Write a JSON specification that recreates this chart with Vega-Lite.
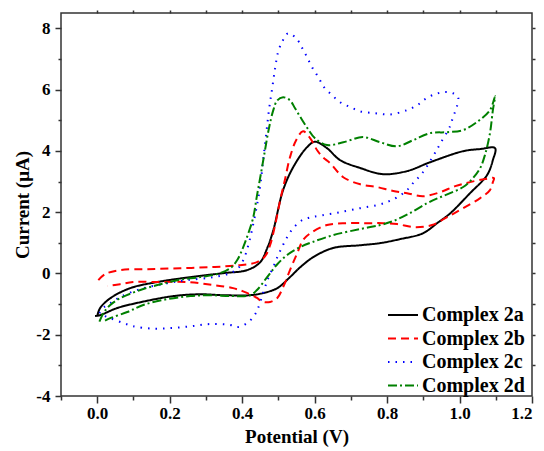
{
  "$schema": "https://vega.github.io/schema/vega-lite/v6.json",
  "autosize": {"type": "none"},
  "padding": {"left": 61, "top": 13, "right": 12, "bottom": 55},
  "width": 471,
  "height": 383,
  "background": "white",
  "config": {
    "view": {"stroke": "#333333", "strokeWidth": 1.5},
    "font": "Liberation Serif",
    "axis": {"domain": false, "grid": false, "tickColor": "#333333", "tickWidth": 1.5}
  },
  "data": {"values": [
    {"s":"Complex 2a","o":0,"x":0.0,"y":-1.39},{"s":"Complex 2a","o":1,"x":0.008,"y":-1.13},{"s":"Complex 2a","o":2,"x":0.036,"y":-0.81},{"s":"Complex 2a","o":3,"x":0.091,"y":-0.48},{"s":"Complex 2a","o":4,"x":0.166,"y":-0.28},{"s":"Complex 2a","o":5,"x":0.257,"y":-0.12},{"s":"Complex 2a","o":6,"x":0.348,"y":0.01},{"s":"Complex 2a","o":7,"x":0.414,"y":0.11},{"s":"Complex 2a","o":8,"x":0.45,"y":0.37},{"s":"Complex 2a","o":9,"x":0.47,"y":0.85},{"s":"Complex 2a","o":10,"x":0.486,"y":1.41},{"s":"Complex 2a","o":11,"x":0.513,"y":2.72},{"s":"Complex 2a","o":12,"x":0.541,"y":3.47},{"s":"Complex 2a","o":13,"x":0.579,"y":4.12},{"s":"Complex 2a","o":14,"x":0.601,"y":4.3},{"s":"Complex 2a","o":15,"x":0.634,"y":4.09},{"s":"Complex 2a","o":16,"x":0.67,"y":3.7},{"s":"Complex 2a","o":17,"x":0.726,"y":3.44},{"s":"Complex 2a","o":18,"x":0.789,"y":3.24},{"s":"Complex 2a","o":19,"x":0.855,"y":3.34},{"s":"Complex 2a","o":20,"x":0.919,"y":3.63},{"s":"Complex 2a","o":21,"x":1.01,"y":3.99},{"s":"Complex 2a","o":22,"x":1.057,"y":4.06},{"s":"Complex 2a","o":23,"x":1.098,"y":4.09},{"s":"Complex 2a","o":24,"x":1.092,"y":3.7},{"s":"Complex 2a","o":25,"x":1.076,"y":3.21},{"s":"Complex 2a","o":26,"x":1.029,"y":2.62},{"s":"Complex 2a","o":27,"x":0.974,"y":1.96},{"s":"Complex 2a","o":28,"x":0.938,"y":1.64},{"s":"Complex 2a","o":29,"x":0.899,"y":1.31},{"s":"Complex 2a","o":30,"x":0.836,"y":1.12},{"s":"Complex 2a","o":31,"x":0.781,"y":0.99},{"s":"Complex 2a","o":32,"x":0.726,"y":0.92},{"s":"Complex 2a","o":33,"x":0.651,"y":0.83},{"s":"Complex 2a","o":34,"x":0.596,"y":0.53},{"s":"Complex 2a","o":35,"x":0.56,"y":0.2},{"s":"Complex 2a","o":36,"x":0.532,"y":-0.12},{"s":"Complex 2a","o":37,"x":0.497,"y":-0.48},{"s":"Complex 2a","o":38,"x":0.458,"y":-0.64},{"s":"Complex 2a","o":39,"x":0.422,"y":-0.71},{"s":"Complex 2a","o":40,"x":0.348,"y":-0.71},{"s":"Complex 2a","o":41,"x":0.284,"y":-0.68},{"s":"Complex 2a","o":42,"x":0.21,"y":-0.74},{"s":"Complex 2a","o":43,"x":0.119,"y":-0.94},{"s":"Complex 2a","o":44,"x":0.055,"y":-1.13},{"s":"Complex 2a","o":45,"x":0.008,"y":-1.36},{"s":"Complex 2a","o":46,"x":-0.006,"y":-1.39},

    {"s":"Complex 2b","o":0,"x":0.003,"y":-0.22},{"s":"Complex 2b","o":1,"x":0.022,"y":-0.02},{"s":"Complex 2b","o":2,"x":0.063,"y":0.11},{"s":"Complex 2b","o":3,"x":0.138,"y":0.14},{"s":"Complex 2b","o":4,"x":0.229,"y":0.17},{"s":"Complex 2b","o":5,"x":0.32,"y":0.21},{"s":"Complex 2b","o":6,"x":0.394,"y":0.27},{"s":"Complex 2b","o":7,"x":0.441,"y":0.37},{"s":"Complex 2b","o":8,"x":0.463,"y":0.56},{"s":"Complex 2b","o":9,"x":0.477,"y":0.92},{"s":"Complex 2b","o":10,"x":0.491,"y":1.58},{"s":"Complex 2b","o":11,"x":0.505,"y":2.39},{"s":"Complex 2b","o":12,"x":0.519,"y":3.11},{"s":"Complex 2b","o":13,"x":0.532,"y":3.79},{"s":"Complex 2b","o":14,"x":0.549,"y":4.35},{"s":"Complex 2b","o":15,"x":0.568,"y":4.64},{"s":"Complex 2b","o":16,"x":0.588,"y":4.41},{"s":"Complex 2b","o":17,"x":0.607,"y":4.02},{"s":"Complex 2b","o":18,"x":0.623,"y":3.79},{"s":"Complex 2b","o":19,"x":0.643,"y":3.6},{"s":"Complex 2b","o":20,"x":0.679,"y":3.14},{"s":"Complex 2b","o":21,"x":0.726,"y":2.91},{"s":"Complex 2b","o":22,"x":0.772,"y":2.82},{"s":"Complex 2b","o":23,"x":0.817,"y":2.69},{"s":"Complex 2b","o":24,"x":0.855,"y":2.62},{"s":"Complex 2b","o":25,"x":0.899,"y":2.52},{"s":"Complex 2b","o":26,"x":0.946,"y":2.65},{"s":"Complex 2b","o":27,"x":0.988,"y":2.85},{"s":"Complex 2b","o":28,"x":1.029,"y":2.98},{"s":"Complex 2b","o":29,"x":1.07,"y":3.08},{"s":"Complex 2b","o":30,"x":1.095,"y":3.11},{"s":"Complex 2b","o":31,"x":1.092,"y":2.98},{"s":"Complex 2b","o":32,"x":1.084,"y":2.72},{"s":"Complex 2b","o":33,"x":1.057,"y":2.46},{"s":"Complex 2b","o":34,"x":1.01,"y":2.13},{"s":"Complex 2b","o":35,"x":0.966,"y":1.84},{"s":"Complex 2b","o":36,"x":0.924,"y":1.58},{"s":"Complex 2b","o":37,"x":0.877,"y":1.51},{"s":"Complex 2b","o":38,"x":0.828,"y":1.61},{"s":"Complex 2b","o":39,"x":0.789,"y":1.64},{"s":"Complex 2b","o":40,"x":0.745,"y":1.64},{"s":"Complex 2b","o":41,"x":0.69,"y":1.64},{"s":"Complex 2b","o":42,"x":0.634,"y":1.58},{"s":"Complex 2b","o":43,"x":0.588,"y":1.31},{"s":"Complex 2b","o":44,"x":0.568,"y":1.09},{"s":"Complex 2b","o":45,"x":0.552,"y":0.66},{"s":"Complex 2b","o":46,"x":0.532,"y":0.11},{"s":"Complex 2b","o":47,"x":0.513,"y":-0.45},{"s":"Complex 2b","o":48,"x":0.497,"y":-0.8},{"s":"Complex 2b","o":49,"x":0.477,"y":-0.93},{"s":"Complex 2b","o":50,"x":0.455,"y":-0.92},{"s":"Complex 2b","o":51,"x":0.441,"y":-0.8},{"s":"Complex 2b","o":52,"x":0.408,"y":-0.61},{"s":"Complex 2b","o":53,"x":0.375,"y":-0.48},{"s":"Complex 2b","o":54,"x":0.32,"y":-0.38},{"s":"Complex 2b","o":55,"x":0.248,"y":-0.28},{"s":"Complex 2b","o":56,"x":0.174,"y":-0.28},{"s":"Complex 2b","o":57,"x":0.099,"y":-0.28},{"s":"Complex 2b","o":58,"x":0.063,"y":-0.35},{"s":"Complex 2b","o":59,"x":0.028,"y":-0.41},

    {"s":"Complex 2c","o":0,"x":0.006,"y":-1.3},{"s":"Complex 2c","o":1,"x":0.019,"y":-1.1},{"s":"Complex 2c","o":2,"x":0.036,"y":-0.97},{"s":"Complex 2c","o":3,"x":0.063,"y":-0.77},{"s":"Complex 2c","o":4,"x":0.119,"y":-0.51},{"s":"Complex 2c","o":5,"x":0.193,"y":-0.32},{"s":"Complex 2c","o":6,"x":0.248,"y":-0.22},{"s":"Complex 2c","o":7,"x":0.32,"y":-0.12},{"s":"Complex 2c","o":8,"x":0.367,"y":0.01},{"s":"Complex 2c","o":9,"x":0.389,"y":0.17},{"s":"Complex 2c","o":10,"x":0.403,"y":0.43},{"s":"Complex 2c","o":11,"x":0.417,"y":0.92},{"s":"Complex 2c","o":12,"x":0.43,"y":1.58},{"s":"Complex 2c","o":13,"x":0.441,"y":2.23},{"s":"Complex 2c","o":14,"x":0.45,"y":2.88},{"s":"Complex 2c","o":15,"x":0.458,"y":3.7},{"s":"Complex 2c","o":16,"x":0.466,"y":4.51},{"s":"Complex 2c","o":17,"x":0.474,"y":5.33},{"s":"Complex 2c","o":18,"x":0.483,"y":6.05},{"s":"Complex 2c","o":19,"x":0.491,"y":6.7},{"s":"Complex 2c","o":20,"x":0.499,"y":7.22},{"s":"Complex 2c","o":21,"x":0.51,"y":7.55},{"s":"Complex 2c","o":22,"x":0.527,"y":7.84},{"s":"Complex 2c","o":23,"x":0.549,"y":7.68},{"s":"Complex 2c","o":24,"x":0.566,"y":7.35},{"s":"Complex 2c","o":25,"x":0.579,"y":7.06},{"s":"Complex 2c","o":26,"x":0.593,"y":6.73},{"s":"Complex 2c","o":27,"x":0.61,"y":6.41},{"s":"Complex 2c","o":28,"x":0.626,"y":6.08},{"s":"Complex 2c","o":29,"x":0.648,"y":5.82},{"s":"Complex 2c","o":30,"x":0.67,"y":5.59},{"s":"Complex 2c","o":31,"x":0.698,"y":5.43},{"s":"Complex 2c","o":32,"x":0.726,"y":5.29},{"s":"Complex 2c","o":33,"x":0.767,"y":5.23},{"s":"Complex 2c","o":34,"x":0.808,"y":5.19},{"s":"Complex 2c","o":35,"x":0.855,"y":5.33},{"s":"Complex 2c","o":36,"x":0.883,"y":5.49},{"s":"Complex 2c","o":37,"x":0.905,"y":5.69},{"s":"Complex 2c","o":38,"x":0.932,"y":5.85},{"s":"Complex 2c","o":39,"x":0.96,"y":5.92},{"s":"Complex 2c","o":40,"x":0.982,"y":5.88},{"s":"Complex 2c","o":41,"x":0.996,"y":5.75},{"s":"Complex 2c","o":42,"x":0.993,"y":5.46},{"s":"Complex 2c","o":43,"x":0.982,"y":5.1},{"s":"Complex 2c","o":44,"x":0.974,"y":4.81},{"s":"Complex 2c","o":45,"x":0.946,"y":4.22},{"s":"Complex 2c","o":46,"x":0.93,"y":3.89},{"s":"Complex 2c","o":47,"x":0.897,"y":3.27},{"s":"Complex 2c","o":48,"x":0.874,"y":2.98},{"s":"Complex 2c","o":49,"x":0.855,"y":2.72},{"s":"Complex 2c","o":50,"x":0.828,"y":2.49},{"s":"Complex 2c","o":51,"x":0.8,"y":2.33},{"s":"Complex 2c","o":52,"x":0.772,"y":2.23},{"s":"Complex 2c","o":53,"x":0.726,"y":2.13},{"s":"Complex 2c","o":54,"x":0.67,"y":2.0},{"s":"Complex 2c","o":55,"x":0.621,"y":1.9},{"s":"Complex 2c","o":56,"x":0.593,"y":1.84},{"s":"Complex 2c","o":57,"x":0.566,"y":1.74},{"s":"Complex 2c","o":58,"x":0.541,"y":1.48},{"s":"Complex 2c","o":59,"x":0.524,"y":1.18},{"s":"Complex 2c","o":60,"x":0.51,"y":0.86},{"s":"Complex 2c","o":61,"x":0.497,"y":0.53},{"s":"Complex 2c","o":62,"x":0.486,"y":0.21},{"s":"Complex 2c","o":63,"x":0.472,"y":-0.15},{"s":"Complex 2c","o":64,"x":0.458,"y":-0.64},{"s":"Complex 2c","o":65,"x":0.444,"y":-1.13},{"s":"Complex 2c","o":66,"x":0.436,"y":-1.33},{"s":"Complex 2c","o":67,"x":0.417,"y":-1.59},{"s":"Complex 2c","o":68,"x":0.389,"y":-1.75},{"s":"Complex 2c","o":69,"x":0.367,"y":-1.68},{"s":"Complex 2c","o":70,"x":0.312,"y":-1.65},{"s":"Complex 2c","o":71,"x":0.262,"y":-1.72},{"s":"Complex 2c","o":72,"x":0.207,"y":-1.78},{"s":"Complex 2c","o":73,"x":0.152,"y":-1.8},{"s":"Complex 2c","o":74,"x":0.099,"y":-1.72},{"s":"Complex 2c","o":75,"x":0.072,"y":-1.62},{"s":"Complex 2c","o":76,"x":0.036,"y":-1.46},{"s":"Complex 2c","o":77,"x":0.014,"y":-1.36},

    {"s":"Complex 2d","o":0,"x":0.006,"y":-1.57},{"s":"Complex 2d","o":1,"x":0.019,"y":-1.26},{"s":"Complex 2d","o":2,"x":0.036,"y":-1.03},{"s":"Complex 2d","o":3,"x":0.063,"y":-0.81},{"s":"Complex 2d","o":4,"x":0.119,"y":-0.54},{"s":"Complex 2d","o":5,"x":0.166,"y":-0.38},{"s":"Complex 2d","o":6,"x":0.221,"y":-0.22},{"s":"Complex 2d","o":7,"x":0.284,"y":-0.12},{"s":"Complex 2d","o":8,"x":0.331,"y":-0.02},{"s":"Complex 2d","o":9,"x":0.367,"y":0.17},{"s":"Complex 2d","o":10,"x":0.386,"y":0.43},{"s":"Complex 2d","o":11,"x":0.403,"y":0.86},{"s":"Complex 2d","o":12,"x":0.417,"y":1.31},{"s":"Complex 2d","o":13,"x":0.43,"y":1.8},{"s":"Complex 2d","o":14,"x":0.441,"y":2.55},{"s":"Complex 2d","o":15,"x":0.452,"y":3.27},{"s":"Complex 2d","o":16,"x":0.463,"y":4.02},{"s":"Complex 2d","o":17,"x":0.474,"y":4.74},{"s":"Complex 2d","o":18,"x":0.486,"y":5.33},{"s":"Complex 2d","o":19,"x":0.497,"y":5.65},{"s":"Complex 2d","o":20,"x":0.513,"y":5.75},{"s":"Complex 2d","o":21,"x":0.532,"y":5.65},{"s":"Complex 2d","o":22,"x":0.546,"y":5.39},{"s":"Complex 2d","o":23,"x":0.566,"y":5.0},{"s":"Complex 2d","o":24,"x":0.582,"y":4.71},{"s":"Complex 2d","o":25,"x":0.601,"y":4.41},{"s":"Complex 2d","o":26,"x":0.634,"y":4.19},{"s":"Complex 2d","o":27,"x":0.679,"y":4.28},{"s":"Complex 2d","o":28,"x":0.734,"y":4.45},{"s":"Complex 2d","o":29,"x":0.781,"y":4.28},{"s":"Complex 2d","o":30,"x":0.828,"y":4.15},{"s":"Complex 2d","o":31,"x":0.872,"y":4.35},{"s":"Complex 2d","o":32,"x":0.919,"y":4.58},{"s":"Complex 2d","o":33,"x":0.966,"y":4.61},{"s":"Complex 2d","o":34,"x":1.01,"y":4.68},{"s":"Complex 2d","o":35,"x":1.048,"y":4.94},{"s":"Complex 2d","o":36,"x":1.084,"y":5.33},{"s":"Complex 2d","o":37,"x":1.098,"y":5.78},{"s":"Complex 2d","o":38,"x":1.092,"y":5.33},{"s":"Complex 2d","o":39,"x":1.084,"y":4.58},{"s":"Complex 2d","o":40,"x":1.07,"y":3.86},{"s":"Complex 2d","o":41,"x":1.057,"y":3.44},{"s":"Complex 2d","o":42,"x":1.037,"y":3.11},{"s":"Complex 2d","o":43,"x":1.01,"y":2.82},{"s":"Complex 2d","o":44,"x":0.974,"y":2.62},{"s":"Complex 2d","o":45,"x":0.941,"y":2.46},{"s":"Complex 2d","o":46,"x":0.91,"y":2.29},{"s":"Complex 2d","o":47,"x":0.863,"y":1.97},{"s":"Complex 2d","o":48,"x":0.817,"y":1.71},{"s":"Complex 2d","o":49,"x":0.781,"y":1.58},{"s":"Complex 2d","o":50,"x":0.726,"y":1.45},{"s":"Complex 2d","o":51,"x":0.651,"y":1.25},{"s":"Complex 2d","o":52,"x":0.593,"y":1.02},{"s":"Complex 2d","o":53,"x":0.56,"y":0.86},{"s":"Complex 2d","o":54,"x":0.524,"y":0.6},{"s":"Complex 2d","o":55,"x":0.497,"y":0.3},{"s":"Complex 2d","o":56,"x":0.469,"y":-0.12},{"s":"Complex 2d","o":57,"x":0.441,"y":-0.54},{"s":"Complex 2d","o":58,"x":0.422,"y":-0.71},{"s":"Complex 2d","o":59,"x":0.375,"y":-0.74},{"s":"Complex 2d","o":60,"x":0.312,"y":-0.71},{"s":"Complex 2d","o":61,"x":0.257,"y":-0.74},{"s":"Complex 2d","o":62,"x":0.193,"y":-0.84},{"s":"Complex 2d","o":63,"x":0.127,"y":-1.03},{"s":"Complex 2d","o":64,"x":0.083,"y":-1.26},{"s":"Complex 2d","o":65,"x":0.036,"y":-1.46},{"s":"Complex 2d","o":66,"x":0.014,"y":-1.59}
  ]},
  "resolve": {"axis": {"x": "independent", "y": "independent"}},
  "layer": [
    {
      "mark": {"type": "line", "interpolate": "catmull-rom", "strokeWidth": 2, "clip": true},
      "encoding": {
        "x": {"field": "x", "type": "quantitative", "scale": {"domain": [-0.1, 1.2], "nice": false, "zero": false},
          "axis": {"orient": "bottom", "values": [0, 0.2, 0.4, 0.6, 0.8, 1.0, 1.2], "format": ".1f", "tickSize": 7, "labelPadding": 2,
            "labelFont": "Liberation Serif", "labelFontWeight": "bold", "labelFontSize": 17, "labelColor": "black",
            "title": "Potential (V)", "titlePadding": 6, "titleFont": "Liberation Serif", "titleFontWeight": "bold", "titleFontSize": 19, "titleColor": "black"}},
        "y": {"field": "y", "type": "quantitative", "scale": {"domain": [-4, 8.5], "nice": false, "zero": false},
          "axis": {"orient": "left", "values": [-4, -2, 0, 2, 4, 6, 8], "tickSize": 6, "labelPadding": 5,
            "labelExpr": "datum.value < 0 ? '-' + abs(datum.value) : '' + datum.value",
            "labelFont": "Liberation Serif", "labelFontWeight": "bold", "labelFontSize": 17, "labelColor": "black",
            "title": "Current (μA)", "titlePadding": 3, "titleFont": "Liberation Serif", "titleFontWeight": "bold", "titleFontSize": 19, "titleColor": "black"}},
        "color": {"field": "s", "type": "nominal", "scale": {"domain": ["Complex 2a", "Complex 2b", "Complex 2c", "Complex 2d"], "range": ["#000000", "#ff0000", "#0000ff", "#008000"]},
          "legend": {"title": null, "orient": "none", "legendX": 332, "legendY": 292, "symbolType": "M-2,0H2", "symbolSize": 225, "symbolStrokeWidth": 2, "rowPadding": 3.5, "labelOffset": 9, "symbolOffset": 0,
            "labelFont": "Liberation Serif", "labelFontWeight": "bold", "labelFontSize": 20, "labelColor": "black"}},
        "strokeDash": {"field": "s", "type": "nominal", "scale": {"domain": ["Complex 2a", "Complex 2b", "Complex 2c", "Complex 2d"], "range": [[1, 0], [8, 5], [1.5, 6], [9, 3, 2, 3]]},
          "legend": {"title": null, "orient": "none", "legendX": 332, "legendY": 292, "symbolType": "M-2,0H2", "symbolSize": 225, "symbolStrokeWidth": 2, "rowPadding": 3.5, "labelOffset": 9, "symbolOffset": 0,
            "labelFont": "Liberation Serif", "labelFontWeight": "bold", "labelFontSize": 20, "labelColor": "black"}},
        "order": {"field": "o", "type": "quantitative"}
      }
    },
    {
      "mark": {"type": "point", "opacity": 0},
      "encoding": {
        "x": {"field": "x", "type": "quantitative", "axis": {"orient": "bottom", "values": [-0.1, 0.1, 0.3, 0.5, 0.7, 0.9, 1.1], "tickSize": 4, "labels": false, "title": null}},
        "y": {"field": "y", "type": "quantitative", "axis": {"orient": "left", "values": [-3, -1, 1, 3, 5, 7], "tickSize": 3, "labels": false, "title": null}}
      }
    },
    {
      "mark": {"type": "point", "opacity": 0},
      "encoding": {
        "x": {"field": "x", "type": "quantitative", "axis": {"orient": "top", "values": [0, 0.1, 0.2, 0.3, 0.4, 0.5, 0.6, 0.7, 0.8, 0.9, 1.0, 1.1], "tickSize": 3, "labels": false, "title": null}},
        "y": {"field": "y", "type": "quantitative", "axis": {"orient": "right", "values": [-3, -2, -1, 0, 1, 2, 3, 4, 5, 6, 7, 8], "tickSize": 3, "labels": false, "title": null}}
      }
    }
  ]
}
